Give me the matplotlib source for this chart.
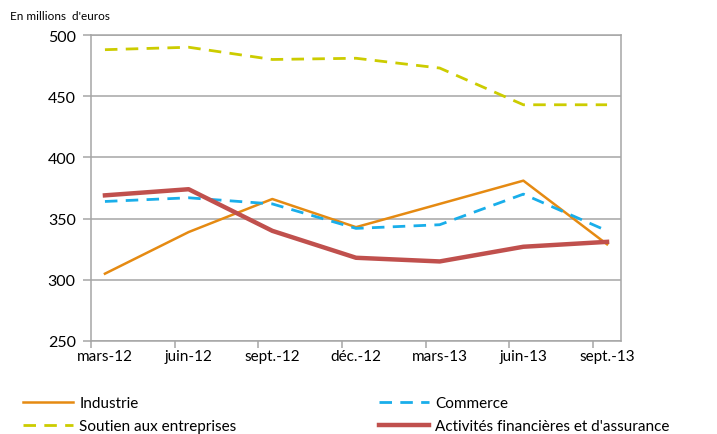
import matplotlib.pyplot as plt
import numpy as np

# Quarterly values (millions of euros)
labels = ['mars-12', 'juin-12', 'sept.-12', 'déc.-12', 'mars-13', 'juin-13', 'sept.-13']
industrie = [305, 339, 366, 343, 362, 381, 329]
commerce = [364, 367, 362, 342, 345, 370, 340]
soutien = [488, 490, 480, 481, 473, 443, 443]
finance = [369, 374, 340, 318, 315, 327, 331]

plt.rcParams['font.family'] = ['Lato', 'DejaVu Sans']

# months since mars-12 (date axis, one slot per month)
months = np.arange(len(labels)) * 3

fig = plt.figure(figsize=(7.17, 4.35), dpi=100)
ax = fig.add_axes([91/717, 93/435, 530/717, 306/435])

l1, = ax.plot(months, industrie, color='#E58A12', lw=1.8, label='Industrie')
l3, = ax.plot(months, soutien, color='#CCCC00', lw=2.0, dashes=(4.5, 3), label='Soutien aux entreprises')
l2, = ax.plot(months, commerce, color='#19AEEA', lw=2.0, dashes=(4.5, 3), label='Commerce')
l4, = ax.plot(months, finance, color='#C0504D', lw=3.2, label="Activités financières et d'assurance")

ax.set_xlim(-0.5, 18.5)
ax.set_ylim(250, 500)
ax.set_yticks([250, 300, 350, 400, 450, 500])
ax.yaxis.grid(True, color='#A6A6A6', lw=1.1)
ax.set_axisbelow(True)

ax.set_xticks(np.arange(-0.5, 18, 3))
ax.set_xticklabels([])
ax.set_xticks(months, minor=True)
ax.set_xticklabels(labels, minor=True)
ax.tick_params(axis='x', which='major', length=5, color='#A6A6A6', width=1.1)
ax.tick_params(axis='x', which='minor', length=0, labelsize=11, pad=6)
ax.tick_params(axis='y', length=6, color='#A6A6A6', width=1.1, labelsize=11.5, pad=5)

for s in ax.spines.values():
    s.set_color('#A6A6A6')
    s.set_linewidth(1.1)

fig.text(10/717, 1 - 17/435, "En millions  d'euros", fontsize=8.5, va='center')

fig.legend(handles=[l1, l3, l2, l4], ncol=2, loc='lower left',
           bbox_to_anchor=(12/717, -0.022), frameon=False, fontsize=11,
           handlelength=3.3, handletextpad=0.4, columnspacing=9.3,
           labelspacing=0.55, borderaxespad=0.3)

plt.savefig('out.png')
